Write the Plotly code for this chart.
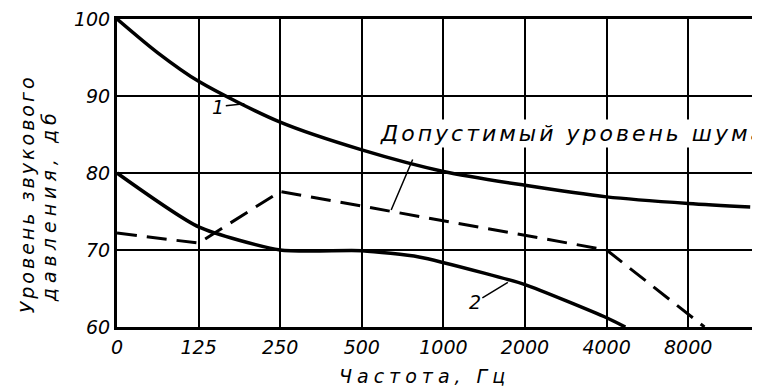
import plotly.graph_objects as go

# Octave-band frequency axis (equally spaced categories)
freq_labels = ["0", "125", "250", "500", "1000", "2000", "4000", "8000"]
freq_pos = [0, 1, 2, 3, 4, 5, 6, 7]
level_ticks = [60, 70, 80, 90, 100]

# Curve 1
curve1_x = [0, 0.5, 1, 2, 3, 4, 5, 6, 7, 7.76]
curve1_y = [100, 95.6, 91.9, 86.6, 83.0, 80.2, 78.4, 76.9, 76.05, 75.6]
# Curve 2
curve2_x = [0, 1, 2, 3, 3.7, 4.5, 5, 6, 6.23]
curve2_y = [80, 73.0, 70.0, 69.9, 69.1, 67.0, 65.5, 61.2, 60]
# Permissible noise level (dashed)
limit_x = [0, 1, 2, 6, 7.2]
limit_y = [72.2, 70.9, 77.6, 70.0, 60]

FONT = "DejaVu Sans"

fig = go.Figure()
fig.add_trace(go.Scatter(x=curve1_x, y=curve1_y, mode="lines",
                         line=dict(color="black", width=3.5, shape="spline", smoothing=0.8),
                         showlegend=False, hoverinfo="skip"))
fig.add_trace(go.Scatter(x=curve2_x, y=curve2_y, mode="lines",
                         line=dict(color="black", width=3.5, shape="spline", smoothing=0.6),
                         showlegend=False, hoverinfo="skip"))
fig.add_trace(go.Scatter(x=limit_x, y=limit_y, mode="lines",
                         line=dict(color="black", width=3, dash="20px,10px"),
                         showlegend=False, hoverinfo="skip"))

tickfont = dict(family=FONT, size=19, color="black", style="italic")

# the page body adds an 8px margin, so the figure is sized 8px smaller
fig.update_layout(
    width=752, height=381,
    margin=dict(l=109, r=0, t=8, b=62),
    paper_bgcolor="white", plot_bgcolor="white",
    xaxis=dict(range=[0, 7.88], tickvals=freq_pos, ticktext=freq_labels,
               showgrid=True, gridcolor="black", gridwidth=2,
               showline=True, linecolor="black", linewidth=3, mirror=True,
               zeroline=False, ticks="", tickfont=tickfont, ticklabelstandoff=1,
               ticklabeloverflow="allow"),
    yaxis=dict(range=[60, 100], tickvals=level_ticks,
               showgrid=True, gridcolor="black", gridwidth=2,
               showline=True, linecolor="black", linewidth=3,
               zeroline=False, ticks="", tickfont=tickfont, ticklabelstandoff=0,
               ticklabeloverflow="allow"),
)

ann_font = dict(family=FONT, size=19, color="black", style="italic")

fig.add_annotation(x=1.56, y=89.0, text="1", showarrow=True, arrowhead=0,
                   arrowwidth=1.5, arrowcolor="black", ax=-26, ay=3, font=ann_font)
fig.add_annotation(x=4.79, y=65.8, text="2", showarrow=True, arrowhead=0,
                   arrowwidth=1.5, arrowcolor="black", ax=-33, ay=20, font=ann_font)
fig.add_annotation(x=3.36, y=75.2, text=" ", showarrow=True, arrowhead=0,
                   arrowwidth=1.5, arrowcolor="black", ax=26, ay=-61, standoff=0,
                   font=ann_font)
fig.add_annotation(x=3.2, y=85.1, xanchor="left", yanchor="middle", showarrow=False,
                   text='<span style="letter-spacing:3px">Допустимый уровень шума</span>',
                   font=dict(family=FONT, size=22, color="black", style="italic"),
                   bgcolor="white")
fig.add_annotation(x=3.77, xref="x", y=-0.16, yref="paper", showarrow=False,
                   xanchor="center", yanchor="middle",
                   text='<span style="letter-spacing:5px">Частота, Гц</span>',
                   font=ann_font)
fig.add_annotation(x=-0.140, xref="paper", y=0.434, yref="paper", showarrow=False,
                   xanchor="center", yanchor="middle", textangle=-90,
                   text='<span style="letter-spacing:3px">Уровень звукового</span>',
                   font=ann_font)
fig.add_annotation(x=-0.106, xref="paper", y=0.395, yref="paper", showarrow=False,
                   xanchor="center", yanchor="middle", textangle=-90,
                   text='<span style="letter-spacing:5px">давления, дб</span>',
                   font=ann_font)

fig.write_html("out.html")
